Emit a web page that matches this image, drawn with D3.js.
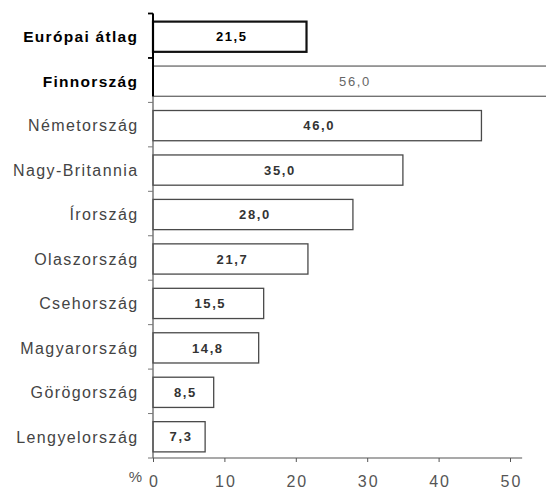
<!DOCTYPE html>
<html><head><meta charset="utf-8">
<script src="https://cdn.jsdelivr.net/npm/d3@7"></script>
<style>
html,body{margin:0;padding:0;background:#fff;}
svg{display:block;}
</style></head>
<body>
<script>
const categories = ["Európai átlag","Finnország","Németország","Nagy-Britannia","Írország","Olaszország","Csehország","Magyarország","Görögország","Lengyelország"];
const values = [21.5,56.0,46.0,35.0,28.0,21.7,15.5,14.8,8.5,7.3];
const valueLabels = ["21,5","56,0","46,0","35,0","28,0","21,7","15,5","14,8","8,5","7,3"];
const xTicks = [0,10,20,30,40,50];
const axisUnit = "%";

const W = 546, H = 491;
const svg = d3.select("body").append("svg").attr("width", W).attr("height", H);

const x = d3.scaleLinear().domain([0, 50]).range([153, 510]);
const y = d3.scaleBand().domain(categories).range([14.5, 459]).paddingInner(0.32).paddingOuter(0.16);

const font = "'Liberation Sans', Arial, sans-serif";

// bars
const g = svg.append("g");
g.selectAll("rect.bar").data(categories).join("rect")
  .attr("class","bar")
  .attr("x", x(0))
  .attr("y", d => y(d))
  .attr("width", (d,i) => x(values[i]) - x(0))
  .attr("height", y.bandwidth())
  .attr("fill", "#fff")
  .attr("stroke", (d,i) => i===0 ? "#111" : (i===1 ? "#6a6a6a" : "#4a4a4a"))
  .attr("stroke-width", (d,i) => i===0 ? 2.2 : 1.3);

// value labels
g.selectAll("text.val").data(categories).join("text")
  .attr("class","val")
  .attr("x", (d,i) => (x(0) + x(values[i]))/2 + 2)
  .attr("y", d => y(d) + y.bandwidth()/2)
  .attr("dy","0.36em")
  .attr("text-anchor","middle")
  .attr("font-family", font)
  .attr("font-size", 13)
  .attr("letter-spacing", "1.6px")
  .attr("font-weight", (d,i) => i===1 ? "normal" : "bold")
  .attr("fill", (d,i) => i===0 ? "#000" : (i===1 ? "#666" : "#333"))
  .text((d,i) => valueLabels[i]);

// category labels
g.selectAll("text.cat").data(categories).join("text")
  .attr("class","cat")
  .attr("x", (d,i) => i<2 ? 138.3 : 138.5)
  .attr("y", d => y(d) + y.bandwidth()/2)
  .attr("dy","0.36em")
  .attr("text-anchor","end")
  .attr("font-family", font)
  .attr("font-size", (d,i) => i<2 ? 15.5 : 16)
  .attr("letter-spacing", (d,i) => i<2 ? "1.3px" : "1.4px")
  .attr("font-weight", (d,i) => i<2 ? "bold" : "normal")
  .attr("fill", (d,i) => i<2 ? "#000" : "#444")
  .text(d => d);

// left axis line
const step = y.step();
const y0 = y.range()[0] - 1, y1 = 458;
svg.append("line").attr("x1", x(0)).attr("x2", x(0)).attr("y1", y0).attr("y2", y1)
  .attr("stroke", "#555").attr("stroke-width", 1.2);
svg.append("line").attr("x1", x(0)).attr("x2", x(0)).attr("y1", y0).attr("y2", y(categories[1]) + y.bandwidth())
  .attr("stroke", "#000").attr("stroke-width", 2);
// boundary ticks
const bounds = d3.range(categories.length + 1).map(k => y.range()[0] - 1 + k * step);
svg.selectAll("line.ytick").data(bounds).join("line")
  .attr("class","ytick")
  .attr("x1", x(0) - 5).attr("x2", x(0))
  .attr("y1", d => d).attr("y2", d => d)
  .attr("stroke", (d,i) => i<2 ? "#000" : "#777")
  .attr("stroke-width", (d,i) => i<2 ? 1.8 : 1);

// x axis
const xa = svg.append("g").attr("transform", `translate(0,${y1})`)
  .call(d3.axisBottom(x).tickValues(xTicks).tickSize(4).tickSizeOuter(0).tickPadding(14).tickFormat(d3.format("d")));
xa.select(".domain").attr("d", `M${x(0)},0H${x(51.7)}`).attr("stroke","#555").attr("stroke-width",1.2);
xa.selectAll(".tick line").attr("stroke","#555");
xa.selectAll(".tick text").attr("font-family", font).attr("font-size", 16)
  .attr("letter-spacing","2px").attr("dx","1px").attr("fill","#555");

svg.append("text").attr("x", 142).attr("y", 482)
  .attr("text-anchor","end").attr("font-family", font).attr("font-size", 15)
  .attr("fill","#555").text(axisUnit);
</script>
</body></html>
